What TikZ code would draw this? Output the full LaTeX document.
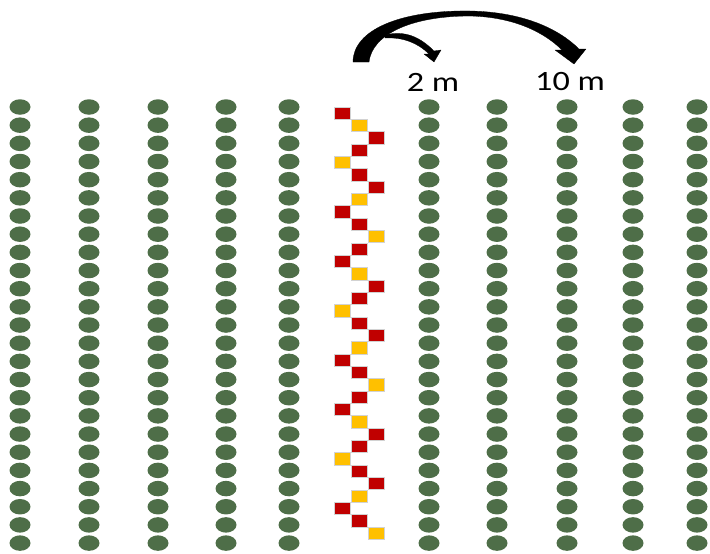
\documentclass[tikz,border=0pt]{standalone}
\usepackage{fontspec}
\usepackage{graphicx}
\setmainfont{Carlito}
\usetikzlibrary{shapes.geometric}
\definecolor{plantgreen}{RGB}{78,110,72}
\definecolor{tred}{RGB}{192,0,0}
\definecolor{tyellow}{RGB}{255,192,0}
\begin{document}
\begin{tikzpicture}[x=1pt,y=-1pt,
  plant/.style={ellipse, fill=plantgreen, minimum width=21pt, minimum height=15.5pt, inner sep=0pt},
  trapbox/.style={rectangle, minimum width=16pt, minimum height=12.3pt, inner sep=0pt, draw=gray!35, line width=0.4pt},
  lab/.style={font=\fontsize{28}{30}\selectfont, inner sep=0pt},
  arrowbody/.style={fill=black, draw=black, line width=0.3pt, line join=round}]
\useasboundingbox (0,0) rectangle (710,554);
% plant rows
\foreach \c [count=\i] in {20,89,158,226,289,429,497,567,633,697}{
  \foreach \r in {0,...,24}{
    \node[plant] (p-\i-\r) at (\c, {107+\r*18.17}) {};
  }
}
% trap column
\foreach \k in {1,...,35}{
  \pgfmathtruncatemacro\m{mod(\k-1,4)}
  \pgfmathtruncatemacro\cc{mod(\k,3)}
  \pgfmathsetmacro\xs{\m==0 ? 342 : (\m==2 ? 376 : 359)}
  \ifnum\cc=2 \def\col{tyellow}\else\def\col{tred}\fi
  \node[trapbox, fill=\col] (t-\k) at (\xs, {113+(\k-1)*12.35}) {};
}
% arrows
\fill[arrowbody] (353,62) .. controls (353,30) and (400,10) .. (470,11)
  .. controls (525,12) and (560,30) .. (579,49) -- (586,49) -- (574,64) -- (555,50) -- (562,50)
  .. controls (545,33) and (515,17) .. (470,16)
  .. controls (410,16) and (372,35) .. (369,62) -- cycle;
\fill[arrowbody] (385,35) .. controls (405,30) and (420,37) .. (434,51) -- (441,50) -- (434,62) -- (424,54) -- (429,54)
  .. controls (418,43) and (403,37) .. (385,38) -- cycle;
% labels
\node[lab] (l2) at (433,82) {\scalebox{1.22}[1]{2 m}};
\node[lab] (l10) at (570,82) {\scalebox{1.22}[1]{10 m}};
\end{tikzpicture}
\end{document}
